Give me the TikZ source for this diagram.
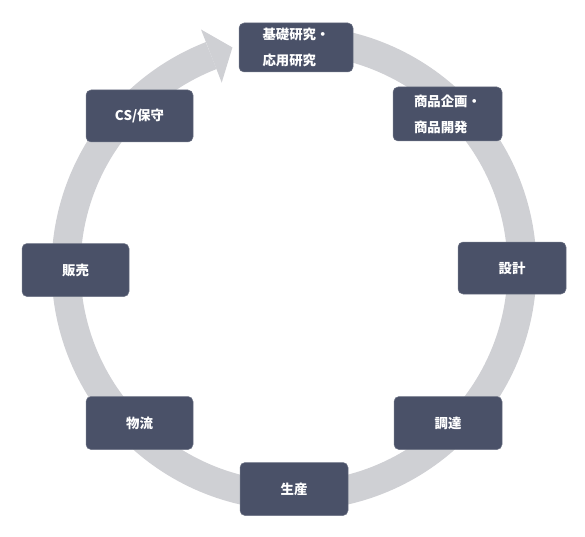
\documentclass[tikz,border=0pt]{standalone}
\usepackage{fontspec}
\setmainfont{Noto Sans CJK JP}
\usetikzlibrary{calc}
\definecolor{boxfill}{HTML}{4A5168}
\definecolor{ringgrey}{HTML}{CFD0D4}
\begin{document}
\begin{tikzpicture}[x=1pt,y=1pt,
  stepbox/.style={draw=boxfill!80!white, line width=0.5pt, fill=boxfill, rounded corners=5pt,
    text=white, font=\fontsize{13.4}{26}\selectfont\bfseries, align=left,
    minimum width=107pt, minimum height=53pt, inner sep=0pt},
  ring/.style={draw=ringgrey, line width=29pt}]
\useasboundingbox (0,0) rectangle (585,536);
\coordinate (c) at (294,268);
% ring
\draw[ring] ($(c)+(90:228)$) arc[start angle=90, end angle=-248.7, radius=228];
\fill[ringgrey] ($(c)+(111.3:199)$) -- ($(c)+(105.6:229)$) -- ($(c)+(111.3:256)$) -- cycle;
% boxes
\node[stepbox, minimum width=114pt, minimum height=49pt] (kiso) at (296,488.5) {基礎研究・\\応用研究};
\node[stepbox, minimum width=109pt, minimum height=54pt] (kikaku) at (447.5,422) {商品企画・\\商品開発};
\node[stepbox, minimum width=108pt, minimum height=52pt] (sekkei) at (512,268) {設計};
\node[stepbox, minimum width=108pt] (chotatsu) at (448,113) {調達};
\node[stepbox, minimum width=108pt] (seisan) at (294,47) {生産};
\node[stepbox] (butsuryu) at (139.5,113) {物流};
\node[stepbox] (hanbai) at (75.5,266) {販売};
\node[stepbox, minimum height=52pt] (cs) at (139.5,420) {CS/保守};
\end{tikzpicture}
\end{document}
